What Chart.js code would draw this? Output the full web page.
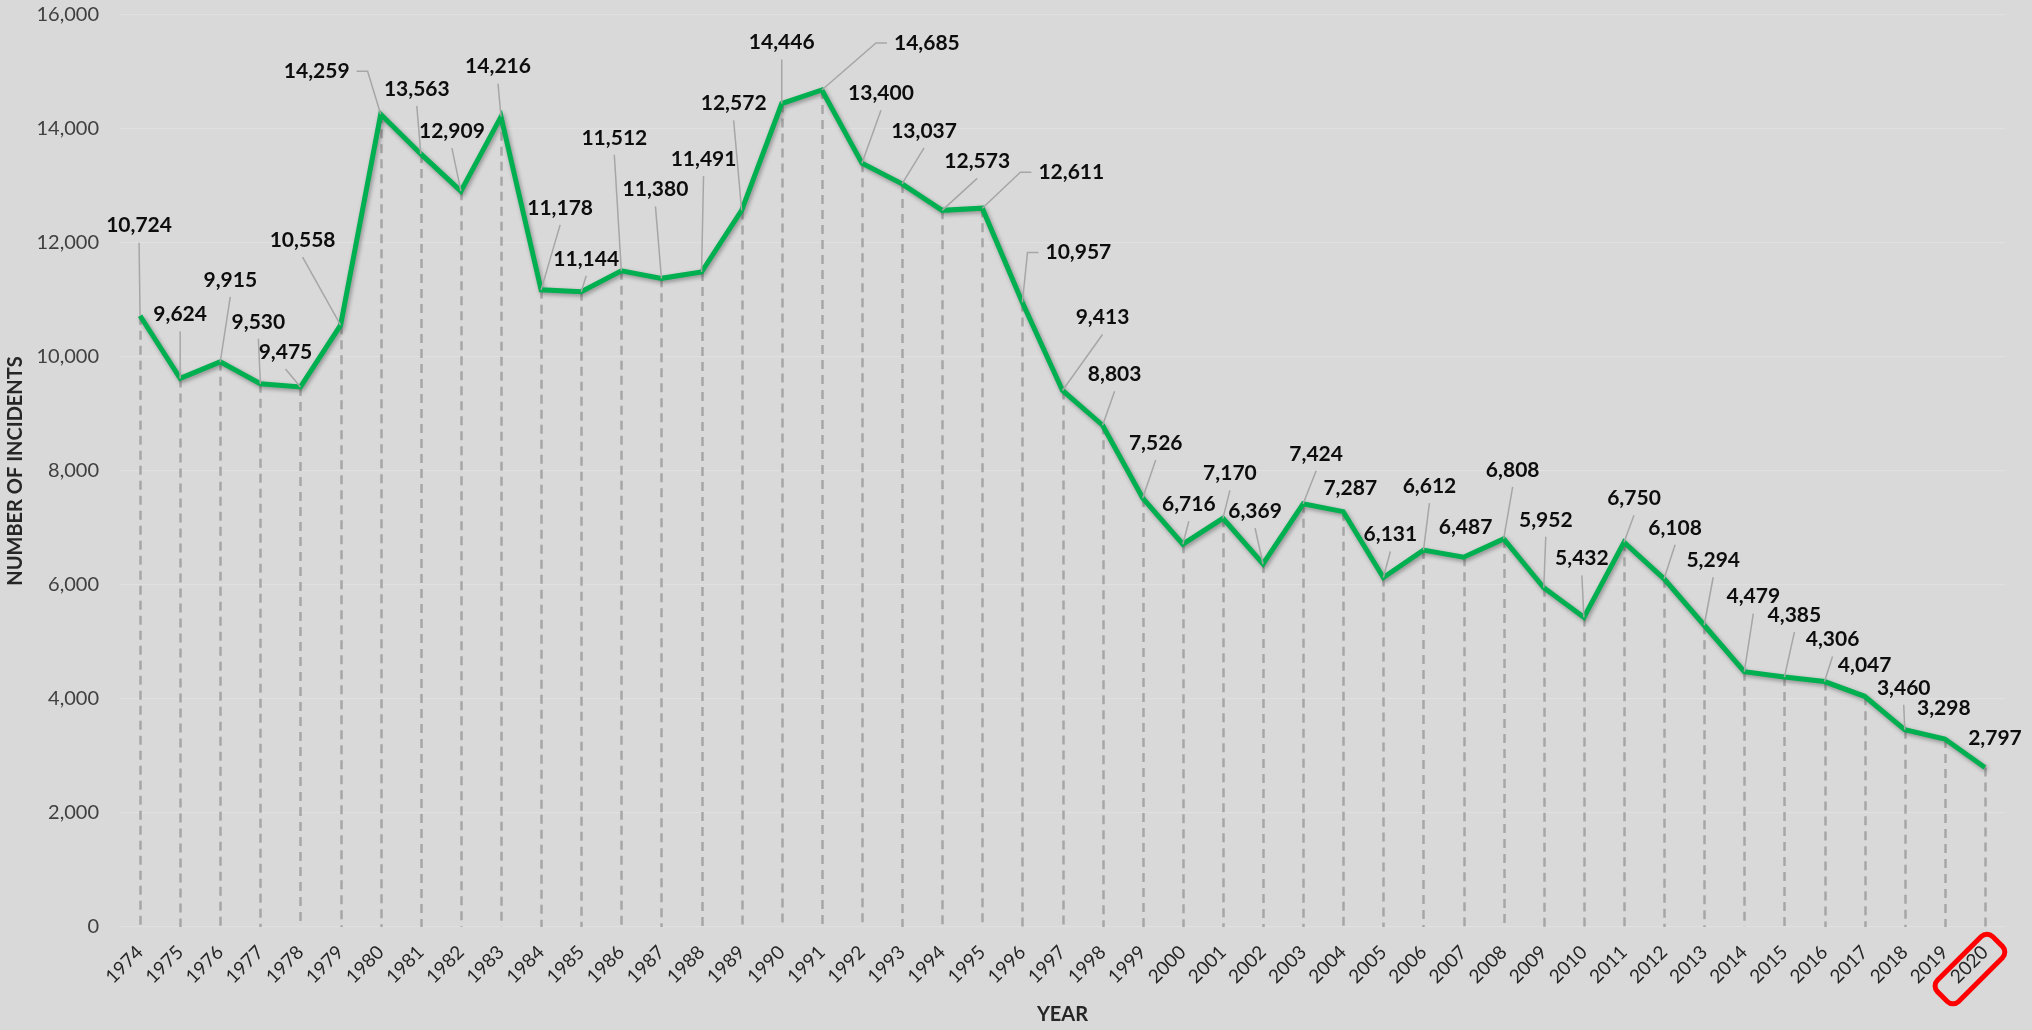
<!DOCTYPE html>
<html>
<head>
<meta charset="utf-8">
<script src="https://cdn.jsdelivr.net/npm/chart.js@4.4.1/dist/chart.umd.min.js"></script>
<style>
  html, body { margin: 0; padding: 0; background: #d9d9d9; }
  #wrap { width: 2032px; height: 1030px; }
</style>
</head>
<body>
<div id="wrap"><canvas id="chart" width="2032" height="1030"></canvas></div>
<script>
const years = ['1974','1975','1976','1977','1978','1979','1980','1981','1982','1983',
  '1984','1985','1986','1987','1988','1989','1990','1991','1992','1993',
  '1994','1995','1996','1997','1998','1999','2000','2001','2002','2003',
  '2004','2005','2006','2007','2008','2009','2010','2011','2012','2013',
  '2014','2015','2016','2017','2018','2019','2020'];

const incidents = [10724, 9624, 9915, 9530, 9475, 10558, 14259, 13563, 12909, 14216,
  11178, 11144, 11512, 11380, 11491, 12572, 14446, 14685, 13400, 13037,
  12573, 12611, 10957, 9413, 8803, 7526, 6716, 7170, 6369, 7424,
  7287, 6131, 6612, 6487, 6808, 5952, 5432, 6750, 6108, 5294,
  4479, 4385, 4306, 4047, 3460, 3298, 2797];

const yTicks = [0, 2000, 4000, 6000, 8000, 10000, 12000, 14000, 16000];

// where each data label sits relative to its point (px), like hand-moved Excel labels
const labelDx = [-1, 0, 10, -2, -15, -38, -64, -4, -9, -3,
  19, 5, -7, -6, 2, -8, 0, 105, 19, 22,
  35, 89, 56, 40, 12, 13, 6, 7, -8, 13,
  7, 7, 6, 2, 9, 2, -2, 10, 11, 9,
  9, 10, 8, 0, -1, -1, 10];
const labelDy = [-90, -64, -82, -62, -35, -85, -43, -65, -60, -50,
  -82, -33, -133, -89, -113, -107, -61, -47, -70, -53,
  -49, -36, -50, -73, -51, -55, -40, -45, -53, -50,
  -23, -43, -64, -30, -69, -68, -59, -44, -51, -65,
  -75, -62, -42, -31, -42, -31, -29];

const FONT = 'Lato, "Open Sans", sans-serif';
const GREEN = '#00b050';
const GREY = '#a6a6a6';

const fmt = v => Number(v).toLocaleString('en-US');

// dashed drop lines from each point to the axis
const dropLines = {
  id: 'dropLines',
  beforeDatasetsDraw(chart) {
    const { ctx } = chart;
    const base = chart.scales.y.getPixelForValue(0);
    const meta = chart.getDatasetMeta(0);
    ctx.save();
    ctx.strokeStyle = GREY;
    ctx.lineWidth = 2.5;
    ctx.setLineDash([9, 6]);
    meta.data.forEach(pt => {
      ctx.beginPath();
      ctx.moveTo(Math.round(pt.x) + 0.5, pt.y);
      ctx.lineTo(Math.round(pt.x) + 0.5, base);
      ctx.stroke();
    });
    ctx.restore();
  }
};

// soft shadow under the green line
const lineShadow = {
  id: 'lineShadow',
  beforeDatasetDraw(chart) {
    const { ctx } = chart;
    ctx.save();
    ctx.shadowColor = 'rgba(0,0,0,0.35)';
    ctx.shadowBlur = 4;
    ctx.shadowOffsetX = 1.5;
    ctx.shadowOffsetY = 2;
  },
  afterDatasetDraw(chart) {
    chart.ctx.restore();
  }
};

// value labels with leader lines
const valueLabels = {
  id: 'valueLabels',
  afterDatasetsDraw(chart) {
    const { ctx } = chart;
    const meta = chart.getDatasetMeta(0);
    ctx.save();
    ctx.font = 'bold 21px ' + FONT;
    ctx.textAlign = 'center';
    ctx.textBaseline = 'middle';
    meta.data.forEach((pt, i) => {
      const text = fmt(incidents[i]);
      const w = ctx.measureText(text).width;
      const lx = pt.x + labelDx[i];
      const ly = pt.y + labelDy[i];

      ctx.strokeStyle = GREY;
      ctx.lineWidth = 1.5;
      if (Math.abs(labelDx[i]) > w / 2 + 15) {
        const s = labelDx[i] > 0 ? -1 : 1;
        const sx = lx + s * (w / 2 + 7);
        ctx.beginPath();
        ctx.moveTo(sx, ly);
        ctx.lineTo(sx + s * 11, ly);
        ctx.lineTo(pt.x, pt.y);
        ctx.stroke();
      } else if (labelDy[i] < -32) {
        ctx.beginPath();
        ctx.moveTo(lx, ly + 17);
        ctx.lineTo(pt.x, pt.y);
        ctx.stroke();
      }

      ctx.fillStyle = '#0d0d0d';
      ctx.fillText(text, lx, ly);
    });
    ctx.restore();
  }
};

// red rounded box around the last year label
const highlightLast = {
  id: 'highlightLast',
  afterDraw(chart) {
    const { ctx, chartArea } = chart;
    const x = chart.scales.x.getPixelForValue(years.length - 1);
    ctx.save();
    ctx.translate(x - 15, chartArea.bottom + 42);
    ctx.rotate(-Math.PI / 4);
    ctx.strokeStyle = '#ff0000';
    ctx.lineWidth = 5;
    ctx.beginPath();
    ctx.roundRect(-39, -15, 78, 30, 8);
    ctx.stroke();
    ctx.restore();
  }
};

new Chart(document.getElementById('chart'), {
  type: 'line',
  data: {
    labels: years,
    datasets: [{
      label: 'Number of incidents',
      data: incidents,
      borderColor: GREEN,
      borderWidth: 5,
      pointRadius: 0,
      tension: 0,
      fill: false
    }]
  },
  options: {
    responsive: false,
    animation: false,
    devicePixelRatio: 1,
    layout: { padding: { top: 15, right: 27, left: 0, bottom: 0 } },
    plugins: {
      legend: { display: false },
      tooltip: { enabled: false }
    },
    scales: {
      x: {
        type: 'category',
        offset: true,
        grid: { display: false, drawTicks: false },
        border: { display: false },
        ticks: {
          autoSkip: false,
          minRotation: 45,
          maxRotation: 45,
          padding: 14,
          color: '#262626',
          font: { family: FONT, size: 19 }
        },
        title: {
          display: true,
          text: 'YEAR',
          color: '#262626',
          font: { family: FONT, size: 20, weight: 'bold' },
          padding: { top: 0, bottom: 3 }
        },
        afterFit: scale => { scale.height = 103; }
      },
      y: {
        min: 0,
        max: 16000,
        afterBuildTicks: scale => { scale.ticks = yTicks.map(v => ({ value: v })); },
        grid: { color: '#e0e0e0', lineWidth: 1.2, drawTicks: false },
        border: { display: false },
        ticks: {
          padding: 21,
          color: '#404040',
          font: { family: FONT, size: 20 },
          callback: v => fmt(v)
        },
        title: {
          display: true,
          text: 'NUMBER OF INCIDENTS',
          color: '#262626',
          font: { family: FONT, size: 20, weight: 'bold' },
          padding: { top: 4, bottom: 0 }
        },
        afterFit: scale => {
          scale.width = 120;
          scale.paddingTop = 0;
          scale.paddingBottom = 0;
        }
      }
    }
  },
  plugins: [dropLines, lineShadow, valueLabels, highlightLast]
});
</script>
</body>
</html>
